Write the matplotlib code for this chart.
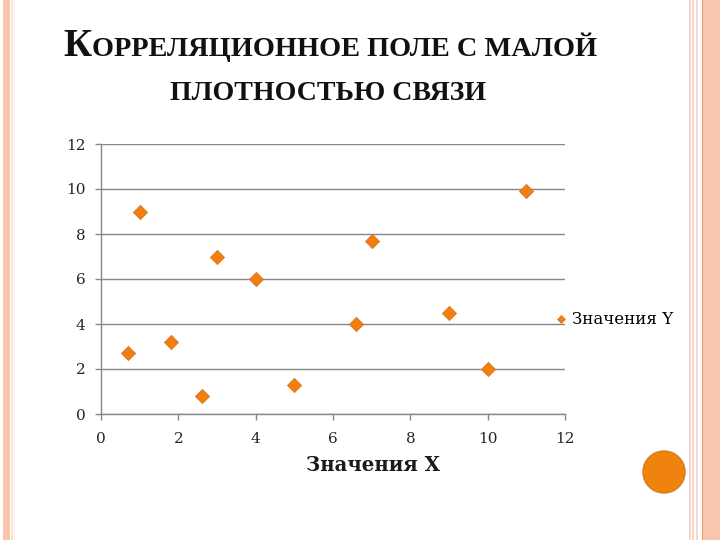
import matplotlib
matplotlib.use("Agg")
import matplotlib.pyplot as plt
from matplotlib.patches import Rectangle, Ellipse
from matplotlib.lines import Line2D

# ---- data ----
x_values = [0.7, 1.0, 1.8, 2.6, 3.0, 4.0, 5.0, 6.6, 7.0, 9.0, 10.0, 11.0]
y_values = [2.7, 9.0, 3.2, 0.8, 7.0, 6.0, 1.3, 4.0, 7.7, 4.5, 2.0, 9.9]
x_ticks = [0, 2, 4, 6, 8, 10, 12]
y_ticks = [0, 2, 4, 6, 8, 10, 12]
series_name = "Значения Y"
x_label = "Значения X"
title_first = "К"
title_rest = "ОРРЕЛЯЦИОННОЕ ПОЛЕ С МАЛОЙ"
title_line2 = "ПЛОТНОСТЬЮ СВЯЗИ"

W, H = 720, 540
def fx(px):
    return px / W
def fy(py):
    return 1 - py / H

orange = "#F07F0E"
grid_c = "#868686"
pink = "#F9C5AF"

fig = plt.figure(figsize=(7.2, 5.4), dpi=100)
fig.patch.set_facecolor("white")

# ---- slide border decorations ----
def vband(x0, x1, color, alpha=1.0):
    fig.add_artist(Rectangle((fx(x0), 0), fx(x1) - fx(x0), 1, transform=fig.transFigure,
                             facecolor=color, edgecolor="none", alpha=alpha, zorder=0))

vband(3, 10, pink)
vband(11, 12.5, "#FBE3D6")
vband(14, 15, "#FDF0E6")
vband(689, 690.5, "#F2D5C8")
vband(692, 693.5, "#F2D5C8")
vband(696, 697.5, "#F5D9CC")
vband(701.5, 703, "#EE9A6A")
vband(703, 720, pink)

# ---- axes ----
ax = fig.add_axes([fx(101), fy(414), fx(565) - fx(101), (414 - 144) / H])
ax.scatter(x_values, y_values, marker="D", s=52, color=orange, edgecolors="#DA7322",
           linewidths=0.6, zorder=3, label=series_name)
ax.set_xlim(0, 12)
ax.set_ylim(0, 12)
ax.set_xticks(x_ticks)
ax.set_yticks(y_ticks)
ax.yaxis.grid(True, color=grid_c, linewidth=1.0)
ax.set_axisbelow(True)
for s in ["top", "right"]:
    ax.spines[s].set_visible(False)
for s in ["left", "bottom"]:
    ax.spines[s].set_color(grid_c)
    ax.spines[s].set_linewidth(1.0)
ax.tick_params(axis="both", direction="out", color=grid_c, length=4, width=1.0,
               labelsize=11, labelcolor="#262626")
ax.tick_params(axis="y", pad=7)
ax.tick_params(axis="x", pad=9)
for lab in ax.get_xticklabels() + ax.get_yticklabels():
    lab.set_family("DejaVu Serif")

ax.set_xlabel(x_label, family="DejaVu Serif", fontweight="bold", fontsize=14.2,
              color="#1a1a1a")
ax.xaxis.set_label_coords((373 - 101) / 464, (414 - 455) / 270)

# legend
handle = Line2D([], [], marker="D", linestyle="none", markersize=4.5, color=orange,
                markeredgecolor="#DA7322", markeredgewidth=0.5)
fig.legend([handle], [series_name], loc="center left",
           bbox_to_anchor=(fx(553), fy(320)), frameon=False, handlelength=1.0,
           handletextpad=0.15, borderpad=0, borderaxespad=0,
           prop={"family": "DejaVu Serif", "size": 12})

# ---- title ----
t1 = fig.text(fx(63), fy(56), title_first, family="Liberation Serif", fontweight="bold",
              fontsize=28, color="#111111", va="baseline", ha="left")
renderer = fig.canvas.get_renderer()
bb = t1.get_window_extent(renderer)
fig.text(bb.x1 / W + fx(1), fy(56), title_rest, family="Liberation Serif", fontweight="bold",
         fontsize=20.4, color="#111111", va="baseline", ha="left")
fig.text(fx(170), fy(100), title_line2, family="Liberation Serif", fontweight="bold",
         fontsize=20.1, color="#111111", va="baseline", ha="left")

# ---- orange circle ----
fig.add_artist(Ellipse((fx(664), fy(472)), 42 / W, 42 / H, transform=fig.transFigure,
                       facecolor="#F0820F", edgecolor="#E07814", linewidth=1))

fig.savefig("out.png", dpi=100)
